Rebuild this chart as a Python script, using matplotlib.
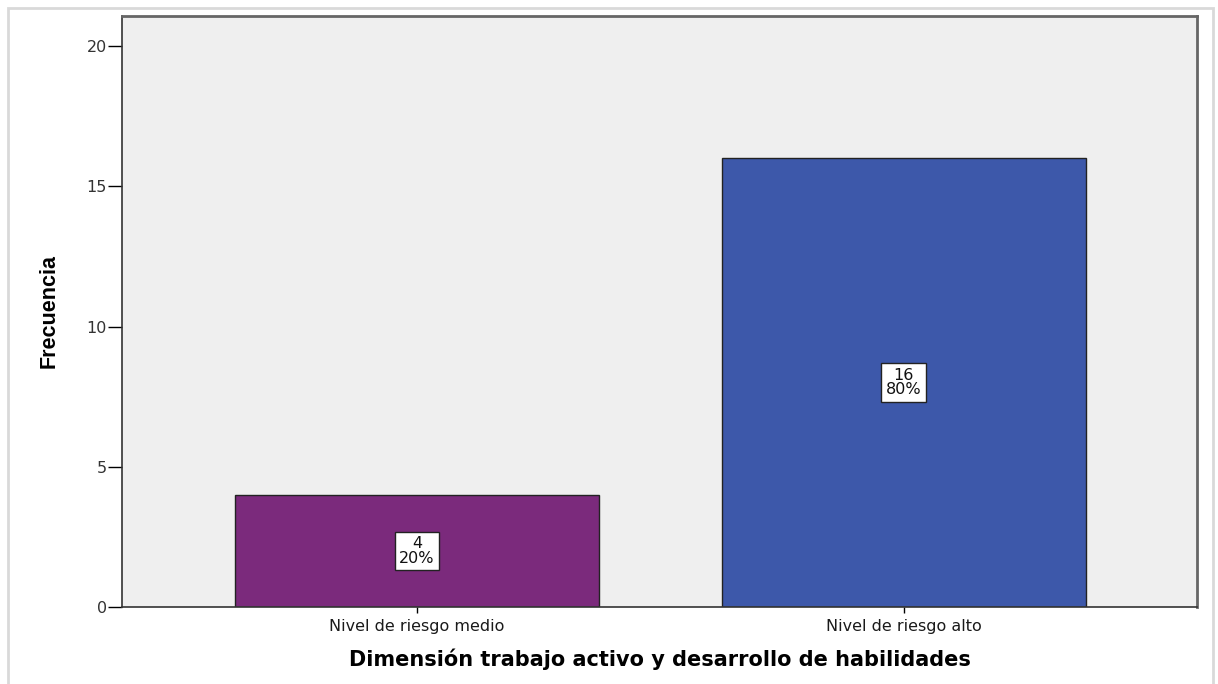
import matplotlib
matplotlib.use("Agg")
import matplotlib.pyplot as plt
from matplotlib.patches import Rectangle

categories = ["Nivel de riesgo medio", "Nivel de riesgo alto"]
counts = [4, 16]
percents = ["20%", "80%"]
colors = ["#7B2A7C", "#3D58AA"]
yticks = [0, 5, 10, 15, 20]

fig = plt.figure(figsize=(12.18, 6.84), dpi=100)
W, H = 1218, 684
# outer light frame
fig.patches.append(Rectangle((8 / W, -0.1), (1213 - 8) / W, 1.1 - 8 / H,
                             transform=fig.transFigure, fill=False,
                             edgecolor="#D9D9D9", linewidth=2.0))

ax = fig.add_axes([122 / W, 1 - 607 / H, (1197 - 122) / W, (607 - 16) / H])
ax.set_facecolor("#EFEFEF")
x = list(range(len(categories)))
ax.bar(x, counts, width=0.748, color=colors, edgecolor="#222222", linewidth=1.0, zorder=2)
for xi, c, p in zip(x, counts, percents):
    ax.text(xi, c / 2, f"{c}\n{p}", ha="center", va="center", fontsize=11.5,
            family="DejaVu Sans", linespacing=0.95, zorder=3, color="#111111",
            bbox=dict(boxstyle="square,pad=0.28", facecolor="white", edgecolor="#222222", linewidth=1.0))

ax.set_xlim(-0.606, 1.603)
ax.set_ylim(0, 21.07)
ax.set_yticks(yticks)
ax.set_xticks(x)
ax.set_xticklabels(categories, family="DejaVu Sans", fontsize=11.5, color="#1a1a1a")
ax.tick_params(axis="y", length=10, width=1, direction="out", labelsize=11.5, labelcolor="#333333", pad=1)
ax.tick_params(axis="x", length=4, width=1, direction="out", pad=5)
for t in ax.get_yticklabels():
    t.set_family("DejaVu Sans")
for s in ["top", "right"]:
    ax.spines[s].set_color("#666666")
    ax.spines[s].set_linewidth(2.0)
for s in ["left", "bottom"]:
    ax.spines[s].set_color("#333333")
    ax.spines[s].set_linewidth(1.2)

ax.set_xlabel("Dimensión trabajo activo y desarrollo de habilidades", fontsize=15,
              fontweight="bold", family="DejaVu Sans", labelpad=10)
ax.set_ylabel("Frecuencia", fontsize=15.5, fontweight="bold",
              family="Liberation Sans", labelpad=19)

fig.savefig("out.png", dpi=100)
